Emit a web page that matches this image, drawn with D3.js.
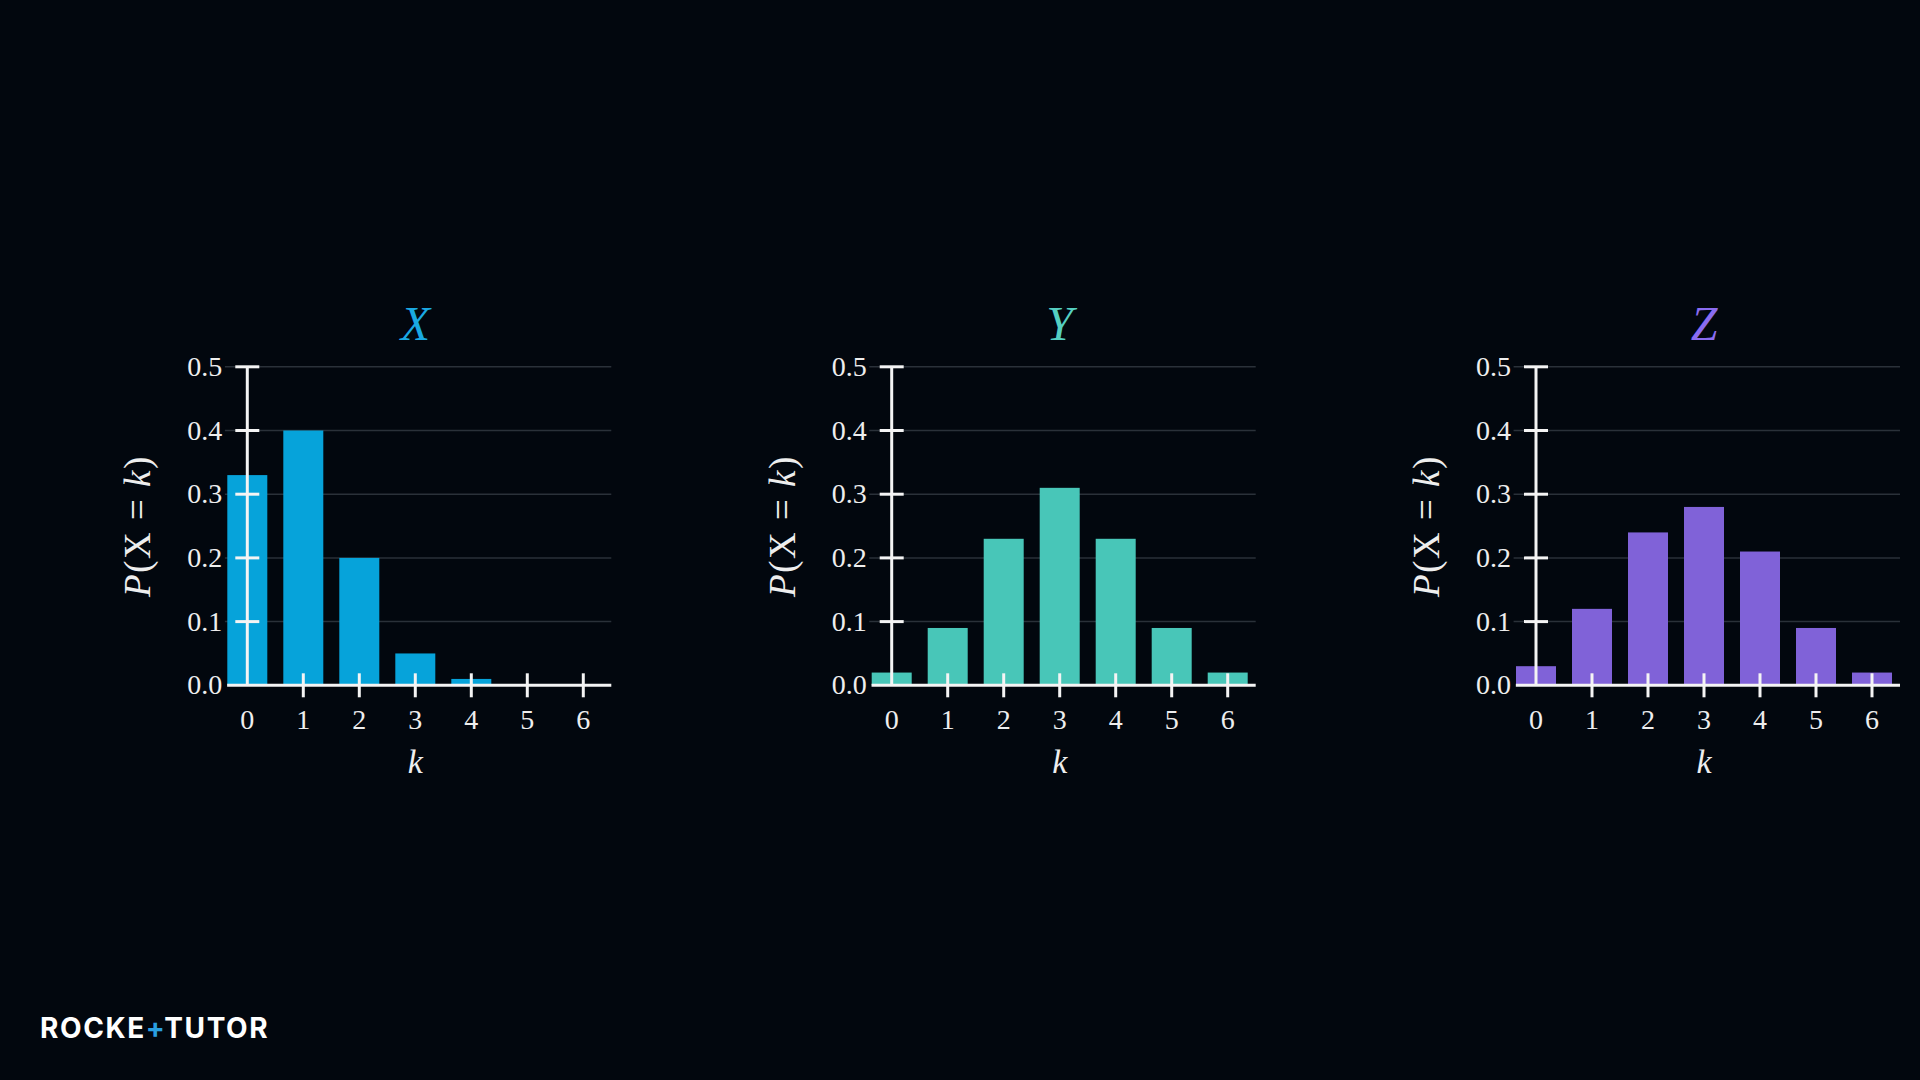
<!DOCTYPE html>
<html>
<head>
<meta charset="utf-8">
<script src="https://cdn.jsdelivr.net/npm/d3@7"></script>
<style>
  html, body { margin: 0; padding: 0; background: #02070e; }
  svg { display: block; }
</style>
</head>
<body>
<svg id="chart"></svg>
<script>
// data
const kValues = [0, 1, 2, 3, 4, 5, 6];
const yTicks = [0, 0.1, 0.2, 0.3, 0.4, 0.5];
const seriesNames = ["X", "Y", "Z"];
const probX = [0.33, 0.40, 0.20, 0.05, 0.01, 0, 0];
const probY = [0.02, 0.09, 0.23, 0.31, 0.23, 0.09, 0.02];
const probZ = [0.03, 0.12, 0.24, 0.28, 0.21, 0.09, 0.02];
const barColors = ["#06a3da", "#48c6b8", "#8062d8"];
const titleColors = ["#1aa9e2", "#55cfc1", "#8a6cf0"];

const W = 1920, H = 1080;
const svg = d3.select("#chart").attr("width", W).attr("height", H);

svg.append("rect").attr("width", W).attr("height", H).attr("fill", "#02070e");

const plotH = 318.5;
const originsX = [247.3, 891.7, 1536];
const originY = 685.3;   // y pixel of P = 0
const serif = "'Liberation Serif', 'DejaVu Serif', serif";

const x = d3.scaleLinear([0, 6.5], [0, 364]);
const y = d3.scaleLinear([0, 0.5], [0, -plotH]);
const barW = 40;

[probX, probY, probZ].forEach((vals, i) => {
  const g = svg.append("g")
    .attr("transform", `translate(${originsX[i]},${originY})`);

  // grid
  g.selectAll("line.grid")
    .data(yTicks.filter(d => d > 0))
    .enter().append("line")
      .attr("x1", x(-0.4)).attr("x2", x(6.5))
      .attr("y1", d => y(d)).attr("y2", d => y(d))
      .attr("stroke", "#2a3139")
      .attr("stroke-width", 1.5);

  // bars
  g.selectAll("rect.bar")
    .data(vals)
    .enter().append("rect")
      .attr("x", (d, j) => x(kValues[j]) - barW / 2)
      .attr("y", d => y(d))
      .attr("width", barW)
      .attr("height", d => -y(d))
      .attr("fill", barColors[i]);

  // axes
  const axisCol = "#f4f4f4";
  g.append("line")
    .attr("x1", x(-0.36)).attr("x2", x(6.5))
    .attr("y1", 0).attr("y2", 0)
    .attr("stroke", axisCol).attr("stroke-width", 3);
  g.append("line")
    .attr("x1", 0).attr("x2", 0)
    .attr("y1", 0).attr("y2", y(0.5))
    .attr("stroke", axisCol).attr("stroke-width", 3);

  g.selectAll("line.ytick")
    .data(yTicks.filter(d => d > 0))
    .enter().append("line")
      .attr("x1", -12).attr("x2", 12)
      .attr("y1", d => y(d)).attr("y2", d => y(d))
      .attr("stroke", axisCol).attr("stroke-width", 3);

  g.selectAll("line.xtick")
    .data(kValues.filter(d => d > 0))
    .enter().append("line")
      .attr("x1", d => x(d)).attr("x2", d => x(d))
      .attr("y1", -12).attr("y2", 12)
      .attr("stroke", axisCol).attr("stroke-width", 3);

  // tick labels
  g.selectAll("text.ylab")
    .data(yTicks)
    .enter().append("text")
      .attr("x", -25)
      .attr("y", d => y(d) + 9)
      .attr("text-anchor", "end")
      .attr("font-family", serif)
      .attr("font-size", 28)
      .attr("fill", "#eeeeee")
      .text(d => d.toFixed(1));

  g.selectAll("text.xlab")
    .data(kValues)
    .enter().append("text")
      .attr("x", d => x(d))
      .attr("y", 44)
      .attr("text-anchor", "middle")
      .attr("font-family", serif)
      .attr("font-size", 28)
      .attr("fill", "#eeeeee")
      .text(d => d);

  // axis titles
  g.append("text")
    .attr("x", x(3))
    .attr("y", 88)
    .attr("text-anchor", "middle")
    .attr("font-family", serif)
    .attr("font-style", "italic")
    .attr("font-size", 34)
    .attr("fill", "#eeeeee")
    .text("k");

  const yl = g.append("text")
    .attr("transform", `translate(-97,${y(0.25)}) rotate(-90)`)
    .attr("text-anchor", "middle")
    .attr("font-family", serif)
    .attr("font-size", 37)
    .attr("letter-spacing", 1.5)
    .attr("fill", "#eeeeee");
  yl.append("tspan").attr("font-style", "italic").text("P");
  yl.append("tspan").text("(X\u2005=\u2005");
  yl.append("tspan").attr("font-style", "italic").text("k");
  yl.append("tspan").text(")");

  g.append("text")
    .attr("x", x(3))
    .attr("y", y(0.5) - 27)
    .attr("text-anchor", "middle")
    .attr("font-family", serif)
    .attr("font-style", "italic")
    .attr("font-size", 48)
    .attr("fill", titleColors[i])
    .text(seriesNames[i]);
});

// logo
const logo = svg.append("text")
  .attr("x", 40)
  .attr("y", 1038)
  .attr("font-family", "Inter, Lato, sans-serif")
  .attr("font-weight", 700)
  .attr("font-size", 28)
  .attr("letter-spacing", 1.6)
  .attr("fill", "#ffffff");
logo.append("tspan").text("ROCKE");
logo.append("tspan").attr("fill", "#2a9fe0").text("+");
logo.append("tspan").text("TUTOR");
</script>
</body>
</html>
